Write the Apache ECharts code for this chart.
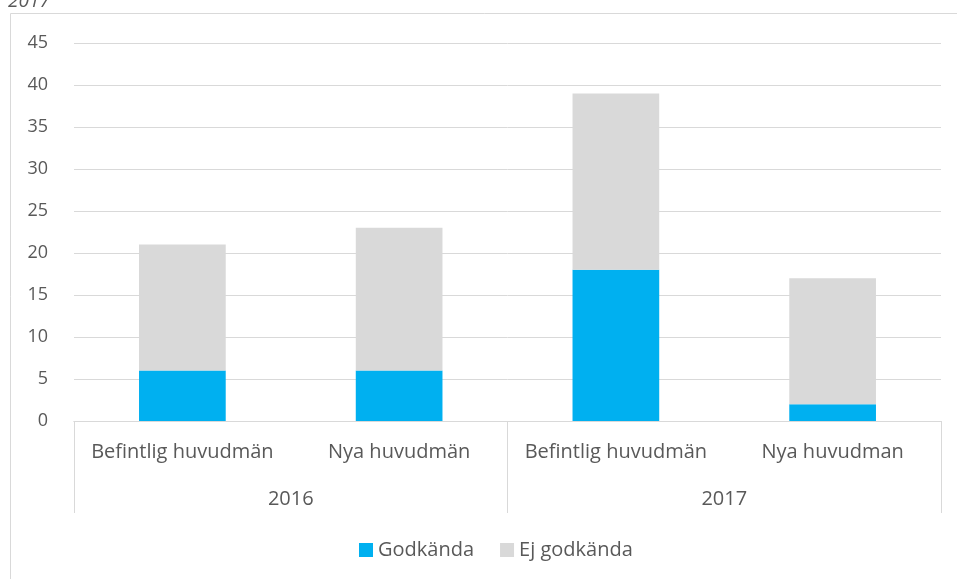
<!DOCTYPE html>
<html>
<head>
<meta charset="utf-8">
<script src="https://cdn.jsdelivr.net/npm/echarts@6/dist/echarts.min.js"></script>
<style>
  html, body { margin: 0; padding: 0; background: #fff; }
  #chart { width: 957px; height: 579px; }
</style>
</head>
<body>
<div id="chart"></div>
<script>
// data
var categories = ['Befintlig huvudmän', 'Nya huvudmän', 'Befintlig huvudmän', 'Nya huvudman'];
var years = ['2016', '2017'];
var godkanda = [6, 6, 18, 2];
var ejGodkanda = [15, 17, 21, 15];
var yTicks = [0, 5, 10, 15, 20, 25, 30, 35, 40, 45];

var font = "'Open Sans', 'Noto Sans', sans-serif";
var textColor = '#595959';
var lineColor = '#d9d9d9';

var chart = echarts.init(document.getElementById('chart'));
var option = {
    animation: false,
    textStyle: { fontFamily: font },
    graphic: [
        {
            type: 'rect',
            shape: { x: 10.5, y: 13.5, width: 1000, height: 700 },
            style: { fill: 'none', stroke: lineColor, lineWidth: 1 },
            silent: true
        },
        {
            type: 'text',
            left: 8, top: -8,
            style: { text: '2017', font: 'italic 19px ' + font, fill: textColor }
        }
    ],
    grid: { left: 74, right: 16, top: 43, bottom: 158, containLabel: false },
    legend: {
        bottom: 14,
        left: 354,
        icon: 'rect',
        itemWidth: 14,
        itemHeight: 14,
        itemGap: 26,
        textStyle: { color: textColor, fontSize: 20, fontFamily: font },
        data: ['Godkända', 'Ej godkända']
    },
    xAxis: [
        {
            type: 'category',
            data: categories,
            axisLine: { lineStyle: { color: lineColor } },
            axisTick: { show: false },
            axisLabel: { color: textColor, fontSize: 20, margin: 21, interval: 0 }
        },
        {
            type: 'category',
            data: years,
            position: 'bottom',
            axisLine: { lineStyle: { color: lineColor } },
            axisTick: { show: true, length: 92, lineStyle: { color: lineColor } },
            axisLabel: { color: textColor, fontSize: 20, margin: 68 }
        }
    ],
    yAxis: {
        type: 'value',
        min: yTicks[0],
        max: yTicks[yTicks.length - 1],
        interval: 5,
        axisLine: { show: false },
        axisTick: { show: false },
        axisLabel: { color: textColor, fontSize: 18, margin: 26 },
        splitLine: { lineStyle: { color: lineColor } }
    },
    series: [
        {
            name: 'Godkända',
            type: 'bar',
            stack: 'total',
            barWidth: '40%',
            itemStyle: { color: '#00b0f0' },
            data: godkanda
        },
        {
            name: 'Ej godkända',
            type: 'bar',
            stack: 'total',
            barWidth: '40%',
            itemStyle: { color: '#d9d9d9' },
            data: ejGodkanda
        }
    ]
};
chart.setOption(option);
</script>
</body>
</html>
